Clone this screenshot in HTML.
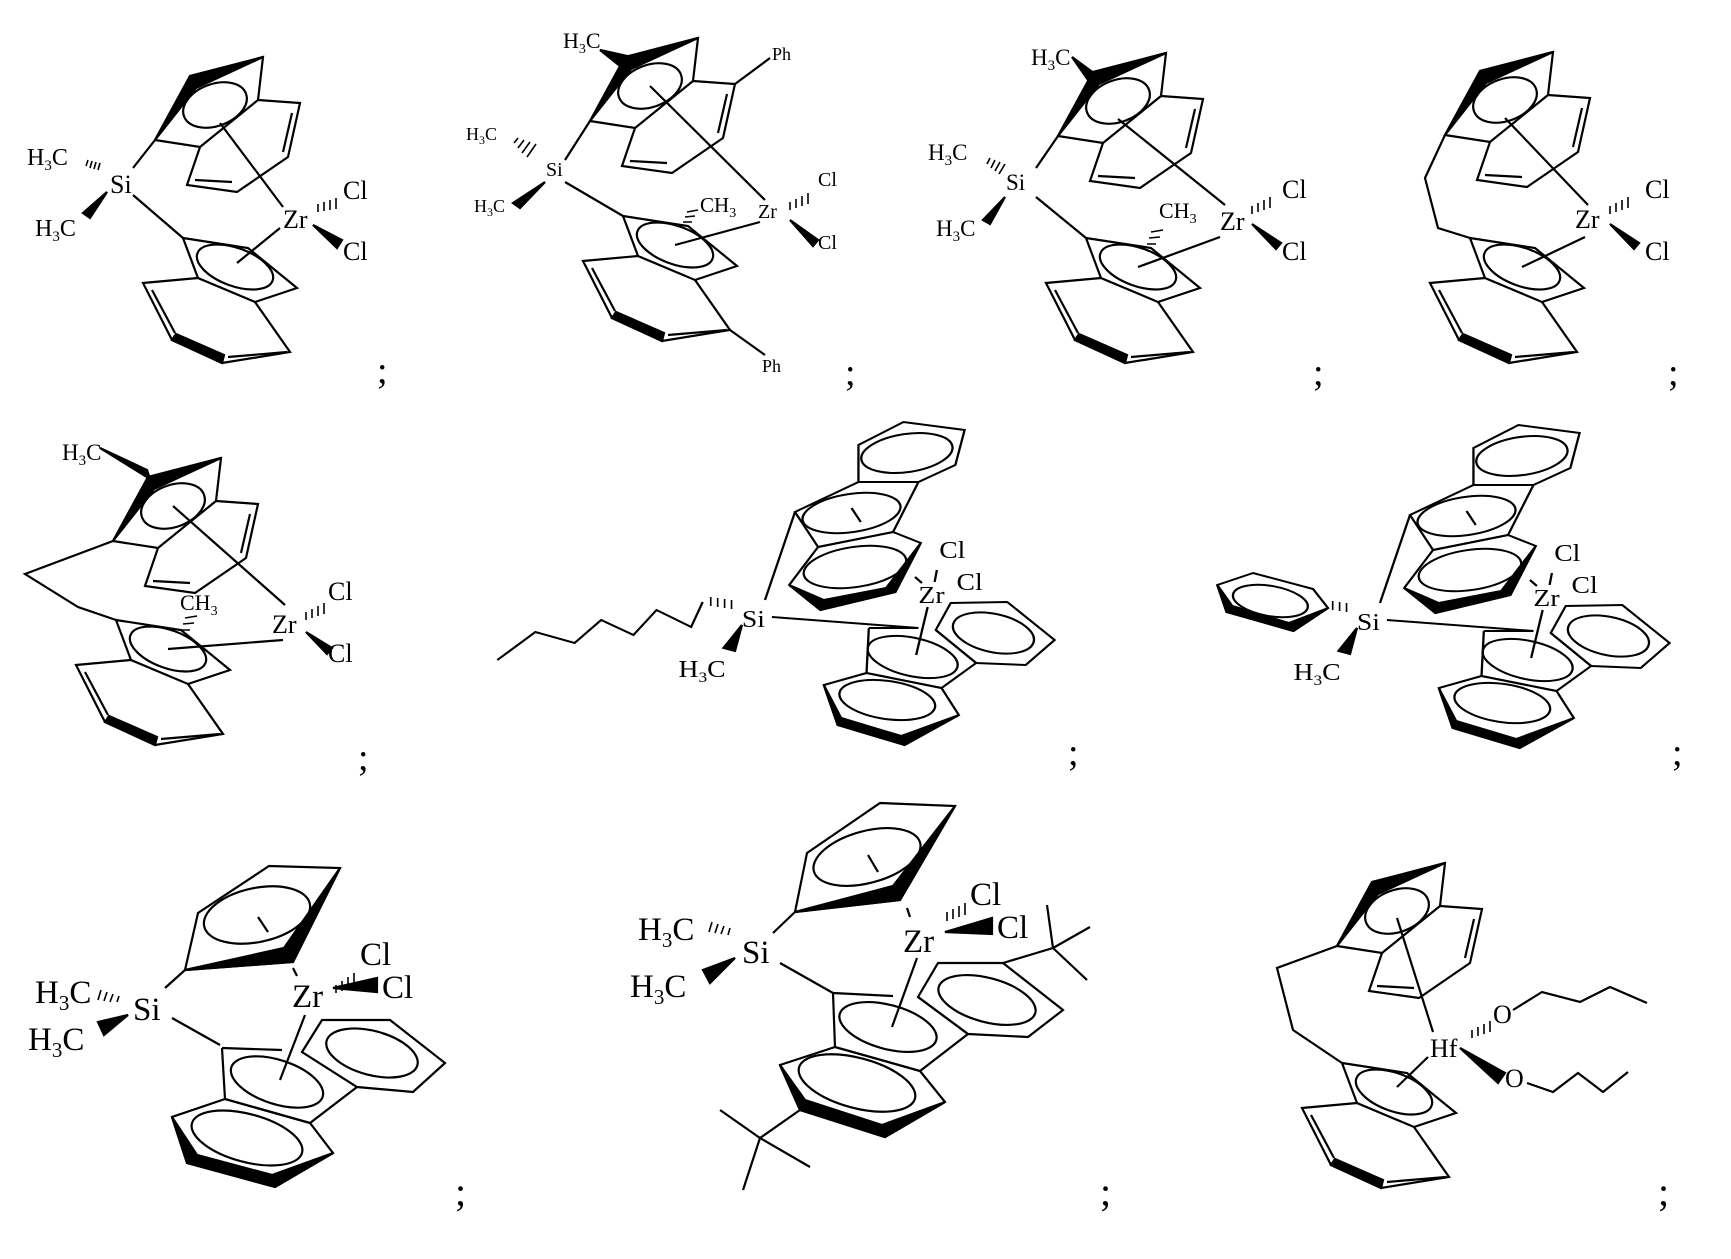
<!DOCTYPE html>
<html><head><meta charset="utf-8"><style>
html,body{margin:0;padding:0;background:#fff;}
svg{display:block}
text{font-family:"Liberation Serif",serif;fill:#000}
</style></head><body>
<svg width="1731" height="1259" viewBox="0 0 1731 1259" xmlns="http://www.w3.org/2000/svg">
<defs>
<g id="U" fill="none" stroke="#000" stroke-width="2.2">
  <polygon points="155,140 192,78 263,57 258,100 200,147"/>
  <polygon points="155,140 190,76 263,57 196,88" fill="#000"/>
  <ellipse cx="215" cy="105" rx="33" ry="21" transform="rotate(-20 215 105)"/>
  <polyline points="258,100 300,103 288,157 237,192 187,185 200,147"/>
  <line x1="292" y1="113" x2="283" y2="152"/>
  <line x1="195" y1="180" x2="232" y2="182"/>
</g>
<g id="L" fill="none" stroke="#000" stroke-width="2.2">
  <polygon points="183,238 248,248 297,288 255,302 198,278"/>
  <ellipse cx="235" cy="267" rx="40" ry="19" transform="rotate(20 235 267)"/>
  <polyline points="198,278 143,283 172,340 222,363 290,352 255,302"/>
  <polygon points="172,340 222,363 224,355 176,334" fill="#000"/>
  <line x1="152" y1="290" x2="175" y2="333"/>
  <line x1="228" y1="357" x2="287" y2="352"/>
</g>
<g id="FL" fill="none" stroke="#000" stroke-width="2">
  <polygon points="808,445 847,422 900,430 892,465 860,482 808,482"/>
  <ellipse cx="850" cy="453" rx="40" ry="19" transform="rotate(-10 850 453)"/>
  <polygon points="753,512 808,482 860,482 838,532 773,547"/>
  <ellipse cx="802" cy="513" rx="43" ry="19" transform="rotate(-10 802 513)"/>
  <line x1="802" y1="508" x2="810" y2="522"/>
  <polygon points="773,547 838,532 862,543 840,592 775,610 748,585"/>
  <polygon points="748,585 775,610 840,592 862,543 832,588 778,600" fill="#000"/>
  <ellipse cx="805" cy="567" rx="45" ry="20" transform="rotate(-10 805 567)"/>
  <line x1="857" y1="577" x2="863" y2="583"/>
  <line x1="876" y1="570" x2="874" y2="582"/>
  <line x1="868" y1="607" x2="858" y2="655"/>
  <polyline points="817,628 860,628"/>
  <polyline points="875,630 910,663 880,688 815,673 817,628"/>
  <ellipse cx="855" cy="657" rx="40" ry="19" transform="rotate(15 855 657)"/>
  <polygon points="875,630 888,603 937,602 978,640 953,665 910,663"/>
  <ellipse cx="925" cy="633" rx="36" ry="19" transform="rotate(15 925 633)"/>
  <polygon points="815,673 778,685 790,725 848,745 895,715 880,688"/>
  <polygon points="778,685 790,725 848,745 895,715 845,736 793,718" fill="#000"/>
  <ellipse cx="833" cy="700" rx="42" ry="19" transform="rotate(10 833 700)"/>
</g>
</defs>

<g stroke="#000" stroke-width="2.2" fill="none">
<!-- Mol 1 -->
<use href="#U"/><use href="#L"/>
<line x1="133" y1="168" x2="155" y2="140"/>
<line x1="133" y1="195" x2="183" y2="238"/>
<line x1="220" y1="123" x2="283" y2="207"/>
<line x1="280" y1="228" x2="237" y2="263"/>
<g stroke-width="1.6"><line x1="88" y1="160" x2="86" y2="166"/><line x1="92" y1="161" x2="90" y2="168"/><line x1="96" y1="162" x2="94" y2="169"/><line x1="100" y1="163" x2="98" y2="170"/></g>
<polygon points="107,192 83,213 90,218" fill="#000"/>
<g stroke-width="1.6"><line x1="318" y1="204" x2="318" y2="212"/><line x1="324" y1="202" x2="324" y2="211"/><line x1="330" y1="200" x2="330" y2="210"/><line x1="336" y1="198" x2="336" y2="209"/></g>
<polygon points="313,225 342,240 337,248" fill="#000"/>

<!-- Mol 2 -->
<use href="#U" transform="translate(435,-19)"/><use href="#L" transform="translate(440,-22)"/>
<line x1="565" y1="160" x2="590" y2="121"/>
<line x1="565" y1="182" x2="623" y2="216"/>
<line x1="650" y1="86" x2="765" y2="200"/>
<line x1="760" y1="222" x2="675" y2="245"/>
<line x1="735" y1="84" x2="770" y2="58"/>
<line x1="730" y1="330" x2="765" y2="355"/>
<polygon points="600,50 627,56 620,66" fill="#000"/>
<g stroke-width="1.6"><line x1="518" y1="138" x2="514" y2="143"/><line x1="524" y1="140" x2="518" y2="148"/><line x1="530" y1="142" x2="522" y2="153"/><line x1="536" y1="144" x2="527" y2="157"/></g>
<polygon points="545,182 513,203 520,208" fill="#000"/>
<g stroke-width="1.5"><line x1="683" y1="222" x2="692" y2="222"/><line x1="685" y1="217" x2="695" y2="216"/><line x1="687" y1="212" x2="698" y2="210"/></g>
<g stroke-width="1.6"><line x1="790" y1="202" x2="790" y2="210"/><line x1="796" y1="199" x2="796" y2="208"/><line x1="802" y1="196" x2="802" y2="206"/><line x1="808" y1="193" x2="808" y2="204"/></g>
<polygon points="790,220 818,240 813,246" fill="#000"/>

<!-- Mol 3 -->
<use href="#U" transform="translate(903,-4)"/><use href="#L" transform="translate(903,0)"/>
<line x1="1036" y1="168" x2="1058" y2="136"/>
<line x1="1036" y1="197" x2="1086" y2="238"/>
<line x1="1118" y1="119" x2="1225" y2="205"/>
<line x1="1220" y1="237" x2="1138" y2="267"/>
<polygon points="1072,57 1095,74 1088,80" fill="#000"/>
<g stroke-width="1.6"><line x1="990" y1="158" x2="987" y2="164"/><line x1="995" y1="160" x2="991" y2="168"/><line x1="1000" y1="162" x2="995" y2="171"/><line x1="1005" y1="164" x2="999" y2="174"/></g>
<polygon points="1005,197 983,220 990,224" fill="#000"/>
<g stroke-width="1.5"><line x1="1147" y1="244" x2="1156" y2="244"/><line x1="1149" y1="238" x2="1160" y2="237"/><line x1="1151" y1="232" x2="1163" y2="230"/></g>
<g stroke-width="1.6"><line x1="1252" y1="206" x2="1252" y2="214"/><line x1="1258" y1="203" x2="1258" y2="212"/><line x1="1264" y1="200" x2="1264" y2="210"/><line x1="1270" y1="197" x2="1270" y2="208"/></g>
<polygon points="1252,224 1281,243 1276,249" fill="#000"/>

<!-- Mol 4 -->
<use href="#U" transform="translate(1290,-5)"/><use href="#L" transform="translate(1287,0)"/>
<polyline points="1445,135 1425,178 1438,228 1470,238"/>
<line x1="1505" y1="118" x2="1588" y2="205"/>
<line x1="1585" y1="237" x2="1522" y2="267"/>
<g stroke-width="1.6"><line x1="1610" y1="206" x2="1610" y2="214"/><line x1="1616" y1="203" x2="1616" y2="212"/><line x1="1622" y1="200" x2="1622" y2="210"/><line x1="1628" y1="197" x2="1628" y2="208"/></g>
<polygon points="1610,224 1639,243 1634,249" fill="#000"/>

<!-- Mol 5 -->
<use href="#U" transform="translate(-42,401)"/><use href="#L" transform="translate(-67,382)"/>
<polyline points="113,541 25,574 78,607 116,620"/>
<line x1="173" y1="506" x2="285" y2="605"/>
<line x1="283" y1="640" x2="168" y2="649"/>
<polygon points="100,448 150,479 147,470" fill="#000"/>
<g stroke-width="1.5"><line x1="181" y1="630" x2="190" y2="630"/><line x1="183" y1="624" x2="194" y2="623"/><line x1="185" y1="618" x2="197" y2="616"/></g>
<g stroke-width="1.6"><line x1="306" y1="612" x2="306" y2="620"/><line x1="312" y1="609" x2="312" y2="618"/><line x1="318" y1="606" x2="318" y2="616"/><line x1="324" y1="603" x2="324" y2="614"/></g>
<polygon points="306,632 332,648 327,654" fill="#000"/>

<!-- Mol 8 -->
<polygon points="198,913 269,866 340,868 293,962 185,970"/>
<polygon points="185,970 293,962 340,868 284,948" fill="#000"/>
<ellipse cx="257" cy="915" rx="54" ry="27" transform="rotate(-12 257 915)"/>
<line x1="258" y1="917" x2="268" y2="932"/>
<line x1="165" y1="988" x2="185" y2="970"/>
<line x1="172" y1="1018" x2="220" y2="1045"/>
<line x1="293" y1="968" x2="297" y2="976"/>
<line x1="305" y1="1015" x2="280" y2="1080"/>
<g stroke-width="1.6"><line x1="101" y1="990" x2="98" y2="1000"/><line x1="107" y1="992" x2="104" y2="1001"/><line x1="113" y1="994" x2="110" y2="1002"/><line x1="119" y1="996" x2="117" y2="1002"/></g>
<polygon points="128,1015 98,1022 104,1035" fill="#000"/>
<g stroke-width="1.6"><line x1="336" y1="985" x2="336" y2="993"/><line x1="342" y1="981" x2="342" y2="991"/><line x1="348" y1="977" x2="348" y2="989"/><line x1="354" y1="973" x2="354" y2="987"/></g>
<polygon points="333,988 377,978 377,992" fill="#000"/>
<line x1="222" y1="1048" x2="282" y2="1050"/>
<polyline points="222,1048 225,1099 310,1123 357,1087"/>
<ellipse cx="277" cy="1082" rx="48" ry="22" transform="rotate(18 277 1082)"/>
<polygon points="302,1052 322,1020 390,1020 445,1063 413,1092 357,1087"/>
<ellipse cx="372" cy="1053" rx="47" ry="22" transform="rotate(15 372 1053)"/>
<polygon points="225,1099 172,1117 187,1163 275,1187 333,1153 310,1123"/>
<polygon points="172,1117 187,1163 275,1187 333,1153 272,1175 197,1155" fill="#000"/>
<ellipse cx="247" cy="1138" rx="57" ry="24" transform="rotate(15 247 1138)"/>

<!-- Mol 9 -->
<polygon points="807,853 880,803 955,806 900,900 795,912"/>
<polygon points="795,912 900,900 955,806 893,886" fill="#000"/>
<ellipse cx="867" cy="857" rx="55" ry="26" transform="rotate(-15 867 857)"/>
<line x1="868" y1="855" x2="878" y2="872"/>
<line x1="773" y1="933" x2="795" y2="912"/>
<line x1="780" y1="963" x2="833" y2="993"/>
<line x1="907" y1="908" x2="910" y2="917"/>
<line x1="917" y1="958" x2="892" y2="1027"/>
<g stroke-width="1.6"><line x1="712" y1="922" x2="709" y2="932"/><line x1="718" y1="924" x2="715" y2="933"/><line x1="724" y1="926" x2="721" y2="934"/><line x1="730" y1="928" x2="728" y2="935"/></g>
<polygon points="735,958 703,970 710,983" fill="#000"/>
<g stroke-width="1.6"><line x1="947" y1="912" x2="947" y2="921"/><line x1="953" y1="909" x2="953" y2="919"/><line x1="959" y1="906" x2="959" y2="917"/><line x1="965" y1="903" x2="965" y2="915"/></g>
<polygon points="945,932 992,918 992,934" fill="#000"/>
<line x1="833" y1="993" x2="893" y2="996"/>
<polyline points="833,993 835,1047 920,1071 968,1034 918,997"/>
<ellipse cx="888" cy="1027" rx="50" ry="22" transform="rotate(15 888 1027)"/>
<polygon points="918,997 938,963 1003,963 1063,1010 1028,1037 968,1034"/>
<ellipse cx="987" cy="1000" rx="50" ry="22" transform="rotate(15 987 1000)"/>
<line x1="1003" y1="963" x2="1053" y2="948"/>
<line x1="1053" y1="948" x2="1047" y2="905"/>
<line x1="1053" y1="948" x2="1090" y2="927"/>
<line x1="1053" y1="948" x2="1087" y2="980"/>
<polygon points="835,1047 780,1065 800,1110 885,1137 945,1102 920,1071"/>
<polygon points="780,1065 800,1110 885,1137 945,1102 882,1125 805,1100" fill="#000"/>
<ellipse cx="857" cy="1083" rx="60" ry="25" transform="rotate(15 857 1083)"/>
<line x1="800" y1="1110" x2="760" y2="1138"/>
<line x1="760" y1="1138" x2="720" y2="1110"/>
<line x1="760" y1="1138" x2="810" y2="1167"/>
<line x1="760" y1="1138" x2="743" y2="1190"/>

<!-- Mol 10 -->
<use href="#U" transform="translate(1182,806)"/><use href="#L" transform="translate(1159,825)"/>
<polyline points="1337,946 1277,968 1293,1030 1342,1063"/>
<line x1="1397" y1="918" x2="1433" y2="1032"/>
<line x1="1428" y1="1057" x2="1397" y2="1087"/>
<g stroke-width="1.6"><line x1="1472" y1="1030" x2="1472" y2="1038"/><line x1="1478" y1="1027" x2="1478" y2="1036"/><line x1="1484" y1="1024" x2="1484" y2="1034"/><line x1="1490" y1="1021" x2="1490" y2="1032"/></g>
<polygon points="1460,1048 1505,1073 1498,1083" fill="#000"/>
<polyline points="1513,1010 1542,992 1580,1002 1610,987 1647,1003"/>
<polyline points="1527,1083 1553,1092 1578,1073 1603,1092 1628,1072"/>
</g>

<!-- Mol 6 (x-scaled) -->
<g transform="translate(480,0) scale(1.1538,1) translate(-480,0)">
 <g stroke="#000" stroke-width="2" fill="none">
  <use href="#FL"/>
  <line x1="727" y1="600" x2="753" y2="512"/>
  <line x1="733" y1="617" x2="860" y2="628"/>
  <polyline points="673,602 663,627 633,610 613,635 585,620 562,643 528,632 495,660"/>
  <g stroke-width="1.4"><line x1="680" y1="597" x2="680" y2="606"/><line x1="686" y1="598" x2="686" y2="607"/><line x1="692" y1="599" x2="692" y2="608"/><line x1="698" y1="600" x2="698" y2="609"/></g>
  <polygon points="707,625 691,648 701,651" fill="#000"/>
 </g>
 <g font-size="24">
  <text x="707" y="627">Si</text>
  <text x="652" y="677">H<tspan font-size="15" dy="5">3</tspan><tspan dy="-5">C</tspan></text>
  <text x="860" y="603">Zr</text>
  <text x="878" y="558">Cl</text>
  <text x="893" y="590">Cl</text>
 </g>
</g>

<!-- Mol 7 (x-scaled) -->
<g transform="translate(615,3) translate(480,0) scale(1.1538,1) translate(-480,0)">
 <g stroke="#000" stroke-width="2" fill="none">
  <use href="#FL"/>
  <line x1="727" y1="600" x2="753" y2="512"/>
  <line x1="733" y1="617" x2="860" y2="628"/>
  <polygon points="586,582 617,570 669,586 682,605 652,628 594,609"/>
  <polygon points="586,582 594,609 652,628 682,605 648,620 599,603" fill="#000"/>
  <ellipse cx="632" cy="598" rx="33" ry="15" transform="rotate(12 632 598)"/>
  <g stroke-width="1.4"><line x1="686" y1="598" x2="686" y2="607"/><line x1="692" y1="599" x2="692" y2="608"/><line x1="698" y1="600" x2="698" y2="609"/></g>
  <polygon points="707,625 691,648 701,651" fill="#000"/>
 </g>
 <g font-size="24">
  <text x="707" y="627">Si</text>
  <text x="652" y="677">H<tspan font-size="15" dy="5">3</tspan><tspan dy="-5">C</tspan></text>
  <text x="860" y="603">Zr</text>
  <text x="878" y="558">Cl</text>
  <text x="893" y="590">Cl</text>
 </g>
</g>

<g font-size="26">
<text x="27" y="165" font-size="24">H<tspan font-size="15" dy="5">3</tspan><tspan dy="-5">C</tspan></text>
<text x="110" y="193">Si</text>
<text x="35" y="236" font-size="24">H<tspan font-size="15" dy="5">3</tspan><tspan dy="-5">C</tspan></text>
<text x="283" y="228">Zr</text>
<text x="343" y="199">Cl</text>
<text x="343" y="260">Cl</text>
<text x="377" y="383" font-size="38">;</text>

<text x="563" y="48" font-size="22">H<tspan font-size="14" dy="5">3</tspan><tspan dy="-5">C</tspan></text>
<text x="772" y="60" font-size="18">Ph</text>
<text x="466" y="140" font-size="18">H<tspan font-size="12" dy="4">3</tspan><tspan dy="-4">C</tspan></text>
<text x="546" y="176" font-size="20">Si</text>
<text x="474" y="212" font-size="18">H<tspan font-size="12" dy="4">3</tspan><tspan dy="-4">C</tspan></text>
<text x="700" y="212" font-size="21">CH<tspan font-size="14" dy="5">3</tspan></text>
<text x="758" y="218" font-size="20">Zr</text>
<text x="818" y="186" font-size="20">Cl</text>
<text x="818" y="249" font-size="20">Cl</text>
<text x="762" y="372" font-size="18">Ph</text>
<text x="845" y="385" font-size="38">;</text>

<text x="1031" y="65" font-size="23">H<tspan font-size="15" dy="5">3</tspan><tspan dy="-5">C</tspan></text>
<text x="928" y="160" font-size="23">H<tspan font-size="15" dy="5">3</tspan><tspan dy="-5">C</tspan></text>
<text x="1006" y="190" font-size="23">Si</text>
<text x="936" y="236" font-size="23">H<tspan font-size="15" dy="5">3</tspan><tspan dy="-5">C</tspan></text>
<text x="1159" y="218" font-size="22">CH<tspan font-size="14" dy="5">3</tspan></text>
<text x="1220" y="230">Zr</text>
<text x="1282" y="198">Cl</text>
<text x="1282" y="260">Cl</text>
<text x="1313" y="385" font-size="38">;</text>

<text x="1575" y="228">Zr</text>
<text x="1645" y="198">Cl</text>
<text x="1645" y="260">Cl</text>
<text x="1668" y="385" font-size="38">;</text>

<text x="62" y="460" font-size="23">H<tspan font-size="15" dy="5">3</tspan><tspan dy="-5">C</tspan></text>
<text x="180" y="610" font-size="22">CH<tspan font-size="14" dy="5">3</tspan></text>
<text x="272" y="633">Zr</text>
<text x="328" y="600">Cl</text>
<text x="328" y="662">Cl</text>
<text x="358" y="770" font-size="38">;</text>

<text x="1068" y="765" font-size="38">;</text>
<text x="1672" y="765" font-size="38">;</text>

<text x="35" y="1003" font-size="33">H<tspan font-size="21" dy="7">3</tspan><tspan dy="-7">C</tspan></text>
<text x="133" y="1020" font-size="33">Si</text>
<text x="28" y="1050" font-size="33">H<tspan font-size="21" dy="7">3</tspan><tspan dy="-7">C</tspan></text>
<text x="292" y="1007" font-size="33">Zr</text>
<text x="360" y="965" font-size="33">Cl</text>
<text x="382" y="998" font-size="33">Cl</text>
<text x="455" y="1205" font-size="40">;</text>

<text x="638" y="940" font-size="33">H<tspan font-size="21" dy="7">3</tspan><tspan dy="-7">C</tspan></text>
<text x="742" y="963" font-size="33">Si</text>
<text x="630" y="997" font-size="33">H<tspan font-size="21" dy="7">3</tspan><tspan dy="-7">C</tspan></text>
<text x="903" y="952" font-size="33">Zr</text>
<text x="970" y="905" font-size="33">Cl</text>
<text x="997" y="938" font-size="33">Cl</text>
<text x="1100" y="1205" font-size="40">;</text>

<text x="1430" y="1057">Hf</text>
<text x="1493" y="1023">O</text>
<text x="1505" y="1087">O</text>
<text x="1658" y="1205" font-size="40">;</text>
</g>
</svg>
</body></html>
